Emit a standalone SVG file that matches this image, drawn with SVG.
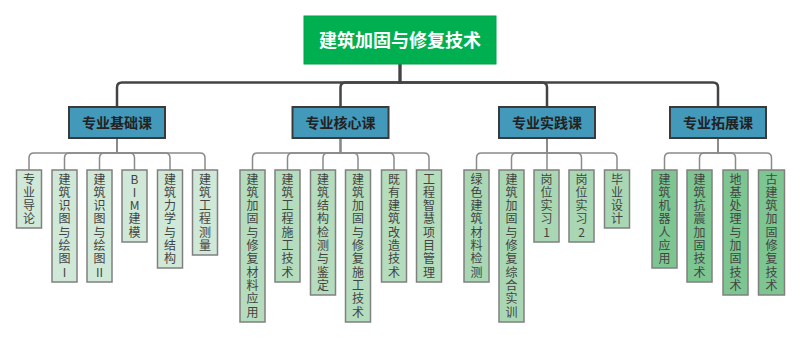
<svg xmlns="http://www.w3.org/2000/svg" width="800" height="338" viewBox="0 0 800 338">
<style>
.root{fill:#00b050;stroke:#00a048;stroke-width:1}
.rootT{font-family:"Noto Sans CJK SC","Noto Sans",sans-serif;font-size:18px;font-weight:bold;fill:#ffffff;text-anchor:middle}
.cat{fill:#4399ba;stroke:#3a3a3a;stroke-width:2}
.catT{font-family:"Noto Sans CJK SC","Noto Sans",sans-serif;font-size:14px;font-weight:bold;fill:#222222;text-anchor:middle}
.leaf{stroke:#808080;stroke-width:1.5}
.l1{fill:#d0e8d7}.l2{fill:#b5dcbd}.l3{fill:#a9d7b3}.l4{fill:#7dc591}
.leafT{font-family:"Noto Sans CJK SC","Noto Sans",sans-serif;font-size:12px;fill:#444444;text-anchor:middle}
.main{fill:none;stroke:#444444;stroke-width:2.5}
.sub{fill:none;stroke:#8a8a8a;stroke-width:1.5}
</style>
<g id="connectors">
<path class="main" d="M400,64 V82.5 H122 Q117,82.5 117,87.5 V107"/>
<path class="main" d="M400,64 V82.5 H345.5 Q340.5,82.5 340.5,87.5 V107"/>
<path class="main" d="M400,64 V82.5 H542 Q547,82.5 547,87.5 V107"/>
<path class="main" d="M400,64 V82.5 H713 Q718,82.5 718,87.5 V107"/>
<path class="sub" d="M117,138 V153 H34 Q29,153 29,158 V170"/>
<path class="sub" d="M117,138 V153 H69.5 Q64.5,153 64.5,158 V170"/>
<path class="sub" d="M117,138 V153 H104.5 Q99.5,153 99.5,158 V170"/>
<path class="sub" d="M117,138 V153 H129.5 Q134.5,153 134.5,158 V170"/>
<path class="sub" d="M117,138 V153 H165 Q170,153 170,158 V170"/>
<path class="sub" d="M117,138 V153 H200 Q205,153 205,158 V170"/>
<path class="sub" d="M340.5,138 V153 H257.5 Q252.5,153 252.5,158 V170"/>
<path class="sub" d="M340.5,138 V153 H292.5 Q287.5,153 287.5,158 V170"/>
<path class="sub" d="M340.5,138 V153 H328 Q323,153 323,158 V170"/>
<path class="sub" d="M340.5,138 V153 H353 Q358,153 358,158 V170"/>
<path class="sub" d="M340.5,138 V153 H389 Q394,153 394,158 V170"/>
<path class="sub" d="M340.5,138 V153 H424 Q429,153 429,158 V170"/>
<path class="sub" d="M547,138 V153 H481.5 Q476.5,153 476.5,158 V170"/>
<path class="sub" d="M547,138 V153 H516.5 Q511.5,153 511.5,158 V170"/>
<path class="sub" d="M547,138 V170"/>
<path class="sub" d="M547,138 V153 H576.5 Q581.5,153 581.5,158 V170"/>
<path class="sub" d="M547,138 V153 H612 Q617,153 617,158 V170"/>
<path class="sub" d="M718,138 V153 H669.5 Q664.5,153 664.5,158 V170"/>
<path class="sub" d="M718,138 V153 H704.5 Q699.5,153 699.5,158 V170"/>
<path class="sub" d="M718,138 V153 H730.5 Q735.5,153 735.5,158 V170"/>
<path class="sub" d="M718,138 V153 H766.5 Q771.5,153 771.5,158 V170"/>
</g>
<g id="root"><rect class="root" x="304" y="16" width="192" height="48"/><text class="rootT" x="400" y="46.5">建筑加固与修复技术</text></g>
<g id="cat1"><rect class="cat" x="69" y="107" width="96" height="31"/><text class="catT" x="117" y="127.5">专业基础课</text></g>
<g id="cat2"><rect class="cat" x="292.5" y="107" width="96" height="31"/><text class="catT" x="340.5" y="127.5">专业核心课</text></g>
<g id="cat3"><rect class="cat" x="499" y="107" width="96" height="31"/><text class="catT" x="547" y="127.5">专业实践课</text></g>
<g id="cat4"><rect class="cat" x="670" y="107" width="96" height="31"/><text class="catT" x="718" y="127.5">专业拓展课</text></g>

<g id="c1-1"><rect class="leaf l1" x="16.5" y="170" width="25" height="58"/><text class="leafT" y="183.5"><tspan x="29">专</tspan><tspan x="29" dy="13.33">业</tspan><tspan x="29" dy="13.33">导</tspan><tspan x="29" dy="13.33">论</tspan></text></g>
<g id="c1-2"><rect class="leaf l1" x="52" y="170" width="25" height="112"/><text class="leafT" y="183.5"><tspan x="64.5">建</tspan><tspan x="64.5" dy="13.33">筑</tspan><tspan x="64.5" dy="13.33">识</tspan><tspan x="64.5" dy="13.33">图</tspan><tspan x="64.5" dy="13.33">与</tspan><tspan x="64.5" dy="13.33">绘</tspan><tspan x="64.5" dy="13.33">图</tspan><tspan x="64.5" dy="13.33">I</tspan></text></g>
<g id="c1-3"><rect class="leaf l1" x="87" y="170" width="25" height="112"/><text class="leafT" y="183.5"><tspan x="99.5">建</tspan><tspan x="99.5" dy="13.33">筑</tspan><tspan x="99.5" dy="13.33">识</tspan><tspan x="99.5" dy="13.33">图</tspan><tspan x="99.5" dy="13.33">与</tspan><tspan x="99.5" dy="13.33">绘</tspan><tspan x="99.5" dy="13.33">图</tspan><tspan x="99.5" dy="13.33">II</tspan></text></g>
<g id="c1-4"><rect class="leaf l1" x="122" y="170" width="25" height="72"/><text class="leafT" y="183.5"><tspan x="134.5">B</tspan><tspan x="134.5" dy="13.33">I</tspan><tspan x="134.5" dy="13.33">M</tspan><tspan x="134.5" dy="13.33">建</tspan><tspan x="134.5" dy="13.33">模</tspan></text></g>
<g id="c1-5"><rect class="leaf l1" x="157.5" y="170" width="25" height="98"/><text class="leafT" y="183.5"><tspan x="170">建</tspan><tspan x="170" dy="13.33">筑</tspan><tspan x="170" dy="13.33">力</tspan><tspan x="170" dy="13.33">学</tspan><tspan x="170" dy="13.33">与</tspan><tspan x="170" dy="13.33">结</tspan><tspan x="170" dy="13.33">构</tspan></text></g>
<g id="c1-6"><rect class="leaf l1" x="192.5" y="170" width="25" height="85"/><text class="leafT" y="183.5"><tspan x="205">建</tspan><tspan x="205" dy="13.33">筑</tspan><tspan x="205" dy="13.33">工</tspan><tspan x="205" dy="13.33">程</tspan><tspan x="205" dy="13.33">测</tspan><tspan x="205" dy="13.33">量</tspan></text></g>

<g id="c2-1"><rect class="leaf l2" x="240" y="170" width="25" height="152"/><text class="leafT" y="183.5"><tspan x="252.5">建</tspan><tspan x="252.5" dy="13.33">筑</tspan><tspan x="252.5" dy="13.33">加</tspan><tspan x="252.5" dy="13.33">固</tspan><tspan x="252.5" dy="13.33">与</tspan><tspan x="252.5" dy="13.33">修</tspan><tspan x="252.5" dy="13.33">复</tspan><tspan x="252.5" dy="13.33">材</tspan><tspan x="252.5" dy="13.33">料</tspan><tspan x="252.5" dy="13.33">应</tspan><tspan x="252.5" dy="13.33">用</tspan></text></g>
<g id="c2-2"><rect class="leaf l2" x="275" y="170" width="25" height="112"/><text class="leafT" y="183.5"><tspan x="287.5">建</tspan><tspan x="287.5" dy="13.33">筑</tspan><tspan x="287.5" dy="13.33">工</tspan><tspan x="287.5" dy="13.33">程</tspan><tspan x="287.5" dy="13.33">施</tspan><tspan x="287.5" dy="13.33">工</tspan><tspan x="287.5" dy="13.33">技</tspan><tspan x="287.5" dy="13.33">术</tspan></text></g>
<g id="c2-3"><rect class="leaf l2" x="310.5" y="170" width="25" height="125"/><text class="leafT" y="183.5"><tspan x="323">建</tspan><tspan x="323" dy="13.33">筑</tspan><tspan x="323" dy="13.33">结</tspan><tspan x="323" dy="13.33">构</tspan><tspan x="323" dy="13.33">检</tspan><tspan x="323" dy="13.33">测</tspan><tspan x="323" dy="13.33">与</tspan><tspan x="323" dy="13.33">鉴</tspan><tspan x="323" dy="13.33">定</tspan></text></g>
<g id="c2-4"><rect class="leaf l2" x="345.5" y="170" width="25" height="152"/><text class="leafT" y="183.5"><tspan x="358">建</tspan><tspan x="358" dy="13.33">筑</tspan><tspan x="358" dy="13.33">加</tspan><tspan x="358" dy="13.33">固</tspan><tspan x="358" dy="13.33">与</tspan><tspan x="358" dy="13.33">修</tspan><tspan x="358" dy="13.33">复</tspan><tspan x="358" dy="13.33">施</tspan><tspan x="358" dy="13.33">工</tspan><tspan x="358" dy="13.33">技</tspan><tspan x="358" dy="13.33">术</tspan></text></g>
<g id="c2-5"><rect class="leaf l2" x="381.5" y="170" width="25" height="112"/><text class="leafT" y="183.5"><tspan x="394">既</tspan><tspan x="394" dy="13.33">有</tspan><tspan x="394" dy="13.33">建</tspan><tspan x="394" dy="13.33">筑</tspan><tspan x="394" dy="13.33">改</tspan><tspan x="394" dy="13.33">造</tspan><tspan x="394" dy="13.33">技</tspan><tspan x="394" dy="13.33">术</tspan></text></g>
<g id="c2-6"><rect class="leaf l2" x="416.5" y="170" width="25" height="112"/><text class="leafT" y="183.5"><tspan x="429">工</tspan><tspan x="429" dy="13.33">程</tspan><tspan x="429" dy="13.33">智</tspan><tspan x="429" dy="13.33">慧</tspan><tspan x="429" dy="13.33">项</tspan><tspan x="429" dy="13.33">目</tspan><tspan x="429" dy="13.33">管</tspan><tspan x="429" dy="13.33">理</tspan></text></g>

<g id="c3-1"><rect class="leaf l3" x="464" y="170" width="25" height="112"/><text class="leafT" y="183.5"><tspan x="476.5">绿</tspan><tspan x="476.5" dy="13.33">色</tspan><tspan x="476.5" dy="13.33">建</tspan><tspan x="476.5" dy="13.33">筑</tspan><tspan x="476.5" dy="13.33">材</tspan><tspan x="476.5" dy="13.33">料</tspan><tspan x="476.5" dy="13.33">检</tspan><tspan x="476.5" dy="13.33">测</tspan></text></g>
<g id="c3-2"><rect class="leaf l3" x="499" y="170" width="25" height="152"/><text class="leafT" y="183.5"><tspan x="511.5">建</tspan><tspan x="511.5" dy="13.33">筑</tspan><tspan x="511.5" dy="13.33">加</tspan><tspan x="511.5" dy="13.33">固</tspan><tspan x="511.5" dy="13.33">与</tspan><tspan x="511.5" dy="13.33">修</tspan><tspan x="511.5" dy="13.33">复</tspan><tspan x="511.5" dy="13.33">综</tspan><tspan x="511.5" dy="13.33">合</tspan><tspan x="511.5" dy="13.33">实</tspan><tspan x="511.5" dy="13.33">训</tspan></text></g>
<g id="c3-3"><rect class="leaf l3" x="534" y="170" width="25" height="72"/><text class="leafT" y="183.5"><tspan x="546.5">岗</tspan><tspan x="546.5" dy="13.33">位</tspan><tspan x="546.5" dy="13.33">实</tspan><tspan x="546.5" dy="13.33">习</tspan><tspan x="546.5" dy="13.33">1</tspan></text></g>
<g id="c3-4"><rect class="leaf l3" x="569" y="170" width="25" height="72"/><text class="leafT" y="183.5"><tspan x="581.5">岗</tspan><tspan x="581.5" dy="13.33">位</tspan><tspan x="581.5" dy="13.33">实</tspan><tspan x="581.5" dy="13.33">习</tspan><tspan x="581.5" dy="13.33">2</tspan></text></g>
<g id="c3-5"><rect class="leaf l3" x="604.5" y="170" width="25" height="58"/><text class="leafT" y="183.5"><tspan x="617">毕</tspan><tspan x="617" dy="13.33">业</tspan><tspan x="617" dy="13.33">设</tspan><tspan x="617" dy="13.33">计</tspan></text></g>

<g id="c4-1"><rect class="leaf l4" x="652" y="170" width="25" height="98"/><text class="leafT" y="183.5"><tspan x="664.5">建</tspan><tspan x="664.5" dy="13.33">筑</tspan><tspan x="664.5" dy="13.33">机</tspan><tspan x="664.5" dy="13.33">器</tspan><tspan x="664.5" dy="13.33">人</tspan><tspan x="664.5" dy="13.33">应</tspan><tspan x="664.5" dy="13.33">用</tspan></text></g>
<g id="c4-2"><rect class="leaf l4" x="687" y="170" width="25" height="112"/><text class="leafT" y="183.5"><tspan x="699.5">建</tspan><tspan x="699.5" dy="13.33">筑</tspan><tspan x="699.5" dy="13.33">抗</tspan><tspan x="699.5" dy="13.33">震</tspan><tspan x="699.5" dy="13.33">加</tspan><tspan x="699.5" dy="13.33">固</tspan><tspan x="699.5" dy="13.33">技</tspan><tspan x="699.5" dy="13.33">术</tspan></text></g>
<g id="c4-3"><rect class="leaf l4" x="723" y="170" width="25" height="125"/><text class="leafT" y="183.5"><tspan x="735.5">地</tspan><tspan x="735.5" dy="13.33">基</tspan><tspan x="735.5" dy="13.33">处</tspan><tspan x="735.5" dy="13.33">理</tspan><tspan x="735.5" dy="13.33">与</tspan><tspan x="735.5" dy="13.33">加</tspan><tspan x="735.5" dy="13.33">固</tspan><tspan x="735.5" dy="13.33">技</tspan><tspan x="735.5" dy="13.33">术</tspan></text></g>
<g id="c4-4"><rect class="leaf l4" x="758.5" y="170" width="26" height="125"/><text class="leafT" y="183.5"><tspan x="771.5">古</tspan><tspan x="771.5" dy="13.33">建</tspan><tspan x="771.5" dy="13.33">筑</tspan><tspan x="771.5" dy="13.33">加</tspan><tspan x="771.5" dy="13.33">固</tspan><tspan x="771.5" dy="13.33">修</tspan><tspan x="771.5" dy="13.33">复</tspan><tspan x="771.5" dy="13.33">技</tspan><tspan x="771.5" dy="13.33">术</tspan></text></g>
</svg>
